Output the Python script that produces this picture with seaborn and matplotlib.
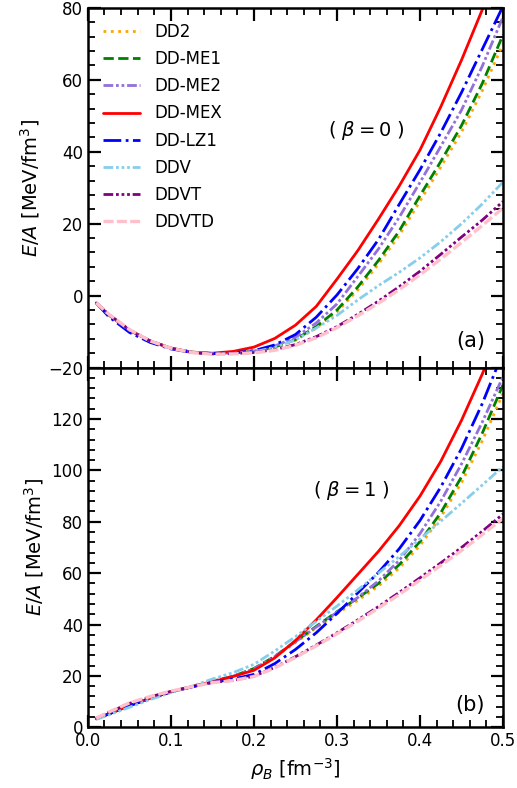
import matplotlib
matplotlib.use("Agg")
import matplotlib.pyplot as plt
from matplotlib.ticker import MultipleLocator, AutoMinorLocator, FixedLocator
import seaborn as sns
import pandas as pd

# density grid (fm^-3)
rho = [0.01, 0.025, 0.05, 0.075, 0.1, 0.125, 0.15, 0.175, 0.2, 0.225, 0.25,
       0.275, 0.3, 0.325, 0.35, 0.375, 0.4, 0.425, 0.45, 0.475, 0.5]

models = ["DD2", "DD-ME1", "DD-ME2", "DD-MEX", "DD-LZ1", "DDV", "DDVT", "DDVTD"]

# (a) symmetric matter, beta = 0
snm_dd2   = [-2.0, -5.3, -9.6, -12.6, -14.6, -15.7, -16.1, -15.9, -15.5, -14.4, -12.4,
             -9.0, -4.5, 1.6, 8.8, 16.8, 26.3, 35.8, 45.5, 57.0, 70.0]
snm_dde1  = [-2.0, -5.3, -9.6, -12.6, -14.6, -15.7, -16.1, -15.9, -15.5, -14.3, -12.2,
             -8.6, -4.0, 2.4, 9.8, 18.0, 27.8, 37.3, 47.3, 59.0, 72.5]
snm_dde2  = [-2.0, -5.3, -9.6, -12.6, -14.6, -15.7, -16.1, -15.9, -15.4, -14.0, -11.6,
             -7.6, -2.3, 5.3, 13.0, 21.8, 31.5, 41.5, 51.6, 63.8, 77.5]
snm_ddmex = [-2.0, -5.3, -9.6, -12.6, -14.6, -15.7, -16.0, -15.5, -14.3, -11.9, -8.2,
             -3.0, 4.6, 12.5, 21.3, 30.5, 40.5, 52.5, 65.5, 79.5, 94.0]
snm_lz1   = [-2.0, -5.8, -10.2, -13.0, -14.8, -15.8, -16.1, -15.9, -15.3, -13.7, -10.8,
             -6.0, 0.2, 7.5, 15.6, 25.4, 35.0, 45.3, 56.5, 68.5, 80.5]
snm_ddv   = [-2.0, -5.3, -9.6, -12.6, -14.6, -15.7, -16.1, -16.0, -15.6, -14.4, -12.3,
             -9.0, -5.5, -1.2, 2.8, 6.5, 10.5, 15.0, 20.0, 25.5, 31.6]
snm_ddvt  = [-2.0, -5.2, -9.5, -12.6, -14.6, -15.8, -16.2, -16.1, -15.8, -15.0, -13.6,
             -11.4, -8.6, -5.2, -1.5, 2.5, 6.8, 11.5, 16.3, 21.0, 26.2]
snm_ddvtd = [-2.0, -5.1, -9.4, -12.6, -14.6, -15.8, -16.3, -16.2, -15.9, -15.2, -13.8,
             -11.7, -8.9, -5.6, -2.1, 1.7, 5.8, 10.2, 14.8, 19.5, 24.4]

# (b) pure neutron matter, beta = 1
pnm_dd2   = [3.3, 5.2, 8.4, 11.3, 13.8, 15.8, 17.9, 19.8, 22.7, 27.3, 33.0,
             38.8, 44.2, 49.4, 55.0, 62.0, 70.8, 81.8, 95.3, 111.5, 130.0]
pnm_dde1  = [3.3, 5.2, 8.4, 11.3, 13.8, 15.8, 17.9, 19.9, 22.9, 27.6, 33.4,
             39.3, 45.0, 50.3, 56.0, 63.3, 72.3, 83.5, 97.5, 114.5, 133.3]
pnm_dde2  = [3.3, 5.2, 8.4, 11.3, 13.8, 15.8, 17.9, 19.9, 22.8, 27.5, 33.3,
             39.0, 44.8, 50.5, 57.0, 65.0, 75.4, 88.0, 102.5, 118.8, 136.5]
pnm_ddmex = [3.3, 5.2, 8.4, 11.3, 13.8, 15.8, 17.8, 19.8, 22.2, 27.0, 33.8,
             41.8, 50.5, 59.5, 68.5, 78.5, 90.0, 103.5, 119.5, 137.5, 157.0]
pnm_lz1   = [3.3, 5.2, 8.4, 11.3, 13.8, 15.7, 17.5, 18.8, 20.6, 24.8, 30.3,
             36.8, 44.3, 52.3, 60.3, 69.5, 80.5, 93.5, 108.5, 126.0, 146.0]
pnm_ddv   = [3.1, 4.8, 7.8, 10.8, 13.5, 16.0, 18.8, 21.3, 24.5, 29.7, 35.3,
             41.2, 47.2, 53.5, 60.0, 66.5, 73.3, 80.2, 87.2, 94.3, 101.5]
pnm_ddvt  = [3.5, 5.8, 9.3, 11.9, 14.0, 15.8, 17.5, 18.3, 19.9, 23.3, 27.5,
             32.0, 36.8, 41.8, 47.0, 52.5, 58.2, 64.0, 70.0, 76.3, 83.0]
pnm_ddvtd = [3.5, 5.9, 9.5, 12.0, 14.1, 15.8, 17.4, 18.2, 19.8, 23.1, 27.2,
             31.7, 36.4, 41.3, 46.4, 51.7, 57.3, 63.0, 68.8, 75.0, 81.3]

snm = [snm_dd2, snm_dde1, snm_dde2, snm_ddmex, snm_lz1, snm_ddv, snm_ddvt, snm_ddvtd]
pnm = [pnm_dd2, pnm_dde1, pnm_dde2, pnm_ddmex, pnm_lz1, pnm_ddv, pnm_ddvt, pnm_ddvtd]

colors = ["orange", "green", "mediumpurple", "red", "blue", "skyblue", "purple", "pink"]
styles = [":", "--", (0, (3.5, 1, 1, 1, 1, 1)), "-", "-.",
          (0, (3.5, 1, 1, 1, 1, 1, 1, 1)), (0, (3.5, 1, 1, 1, 1, 1, 1, 1)), (0, (3, 1))]
widths = [2, 2, 2, 2, 2, 2, 2, 2.4]

sns.set_style("ticks", {"axes.edgecolor": "black", "xtick.color": "black",
                        "ytick.color": "black", "text.color": "black",
                        "axes.labelcolor": "black"})
plt.rcParams["font.family"] = ["DejaVu Sans"]
plt.rcParams["mathtext.fontset"] = "dejavusans"

fig, (ax1, ax2) = plt.subplots(nrows=2, ncols=1, sharex=True, figsize=(5.17, 7.88), dpi=100)
fig.subplots_adjust(left=0.170, right=0.973, top=0.990, bottom=0.077, hspace=0)

for ax, curves in [(ax1, snm), (ax2, pnm)]:
    for name, vals, c, ls, lw in zip(models, curves, colors, styles, widths):
        df = pd.DataFrame({"rho": rho, "E": vals})
        sns.lineplot(data=df, x="rho", y="E", ax=ax, color=c, linestyle=ls,
                     linewidth=lw, label=name if ax is ax1 else None, legend=False)

ax1.set_xlim(0, 0.5)
ax1.set_ylim(-20, 80)
ax2.set_ylim(0, 140)

for ax in (ax1, ax2):
    ax.yaxis.set_minor_locator(AutoMinorLocator(5))
    ax.xaxis.set_major_locator(MultipleLocator(0.1))
    ax.xaxis.set_minor_locator(AutoMinorLocator(5))
    ax.tick_params(which="both", direction="in", top=True, right=True, labelsize=12)
    ax.tick_params(which="major", length=9, width=1.6)
    ax.tick_params(which="minor", length=5, width=1.3)
    for sp in ax.spines.values():
        sp.set_linewidth(1.8)
    ax.set_ylabel(r"$E/A$ [MeV/fm$^3$]", fontsize=14)
    ax.set_xlabel("")

ax1.yaxis.set_major_locator(MultipleLocator(20))
ax2.yaxis.set_major_locator(FixedLocator([0, 20, 40, 60, 80, 100, 120]))

ax2.set_xlabel(r"$\rho_B$ [fm$^{-3}$]", fontsize=14)

ax1.text(0.335, 46, r"( $\beta = 0$ )", fontsize=14, ha="center", va="center")
ax2.text(0.317, 92, r"( $\beta = 1$ )", fontsize=14, ha="center", va="center")
ax1.text(0.478, -12.5, "(a)", fontsize=15, ha="right", va="center")
ax2.text(0.478, 8.6, "(b)", fontsize=15, ha="right", va="center")

ax1.legend(loc="upper left", frameon=False, fontsize=12, handlelength=2.2,
           handletextpad=0.9, labelspacing=0.55)

plt.savefig("out.png", dpi=100)
